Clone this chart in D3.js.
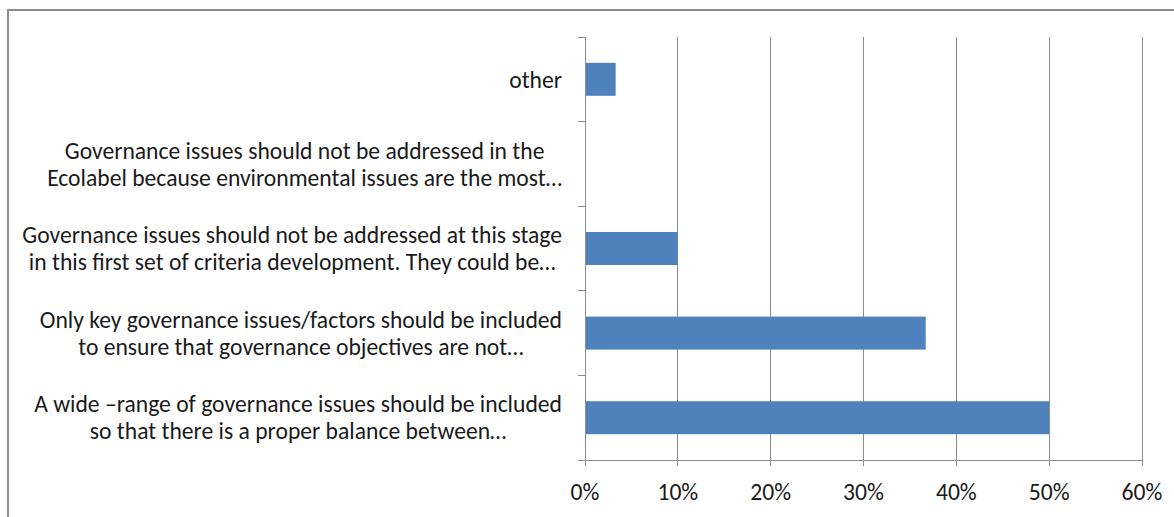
<!DOCTYPE html>
<html>
<head>
<meta charset="utf-8">
<script src="https://cdn.jsdelivr.net/npm/d3@7/dist/d3.min.js"></script>
<style>
  html, body { margin: 0; padding: 0; background: #fff; }
  svg { display: block; }
  text { font-family: "Carlito", "Lato", "Open Sans", sans-serif; fill: #1a1a1a; }
</style>
</head>
<body>
<svg id="chart" width="1174" height="517"></svg>
<script>
// Categories from top to bottom (each as wrapped lines)
const categories = [
  ["other"],
  ["Governance issues should not be addressed in the", "Ecolabel because environmental issues are the most…"],
  ["Governance issues should not be addressed at this stage", "in this first set of criteria development. They could be…"],
  ["Only key governance issues/factors should be included", "to ensure that governance objectives are not…"],
  ["A wide –range of governance issues should be included", "so that there is a proper balance between…"]
];
const values = [0.033, 0.0, 0.10, 0.367, 0.50];
const xTicks = [0, 0.1, 0.2, 0.3, 0.4, 0.5, 0.6];
const xTickLabels = ["0%", "10%", "20%", "30%", "40%", "50%", "60%"];

const svg = d3.select("#chart");
const W = 1174, H = 517;

// Outer frame
svg.append("rect").attr("x", 8).attr("y", 10).attr("width", W + 20).attr("height", H + 20)
  .attr("fill", "#fff").attr("stroke", "#8c8c8c").attr("stroke-width", 2);

const x0 = 585, x1 = 1142, yTop = 37, yBot = 460;
const x = d3.scaleLinear().domain([0, 0.6]).range([x0, x1]);
const y = d3.scaleBand().domain(d3.range(categories.length)).range([yTop, yBot]).paddingInner(0).paddingOuter(0);
const barFrac = 0.39;

// Gridlines
svg.append("g").selectAll("line").data(xTicks.slice(1)).join("line")
  .attr("x1", d => x(d)).attr("x2", d => x(d))
  .attr("y1", yTop).attr("y2", yBot + 6)
  .attr("stroke", "#8c8c8c").attr("stroke-width", 1).attr("shape-rendering", "crispEdges");

// Bars
svg.append("g").selectAll("rect").data(values).join("rect")
  .attr("x", x(0))
  .attr("y", (d, i) => y(i) + y.bandwidth() * (1 - barFrac) / 2)
  .attr("width", d => x(d) - x(0))
  .attr("height", y.bandwidth() * barFrac)
  .attr("fill", "#4F81BD");

// Y axis line and ticks
const yAxisG = svg.append("g").attr("shape-rendering", "crispEdges");
yAxisG.append("line").attr("x1", x0).attr("x2", x0).attr("y1", yTop).attr("y2", yBot)
  .attr("stroke", "#8c8c8c");
const bounds = d3.range(categories.length + 1).map(i => i < categories.length ? y(i) : yBot);
yAxisG.selectAll("line.t").data(bounds).join("line").attr("class", "t")
  .attr("x1", x0 - 7).attr("x2", x0).attr("y1", d => d).attr("y2", d => d)
  .attr("stroke", "#8c8c8c");

// X axis line and ticks
const xAxisG = svg.append("g").attr("shape-rendering", "crispEdges");
xAxisG.append("line").attr("x1", x0).attr("x2", x1).attr("y1", yBot).attr("y2", yBot).attr("stroke", "#8c8c8c");
xAxisG.selectAll("line.t").data(xTicks).join("line").attr("class", "t")
  .attr("x1", d => x(d)).attr("x2", d => x(d)).attr("y1", yBot).attr("y2", yBot + 6)
  .attr("stroke", "#8c8c8c");
const tickTexts = svg.append("g").selectAll("text").data(xTicks).join("text")
  .attr("x", d => x(d)).attr("y", 492).attr("dy", "0.35em")
  .attr("text-anchor", "middle").attr("font-size", 19)
  .text((d, i) => xTickLabels[i]);

// Category labels: lines centered relative to each other, block right-aligned
const labelRight = 562, lineH = 27, targetW = 540;
const lg = svg.append("g");
const allTexts = [];
categories.forEach((lines, i) => {
  const cy = y(i) + y.bandwidth() / 2;
  const texts = lines.map((ln, j) => lg.append("text")
    .attr("y", cy + (j - (lines.length - 1) / 2) * lineH)
    .attr("dy", "0.35em")
    .attr("font-size", 19)
    .attr("text-anchor", "middle")
    .text(ln));
  allTexts.push(texts);
});
// fit font size so the widest line matches the reference width
const widest = d3.max(allTexts.flat(), t => t.node().getComputedTextLength());
const fs = 19 * targetW / widest;
tickTexts.attr("font-size", fs);
allTexts.forEach(texts => {
  texts.forEach(t => t.attr("font-size", fs));
  const maxW = d3.max(texts, t => t.node().getComputedTextLength());
  texts.forEach(t => t.attr("x", labelRight - maxW / 2));
});
</script>
</body>
</html>
